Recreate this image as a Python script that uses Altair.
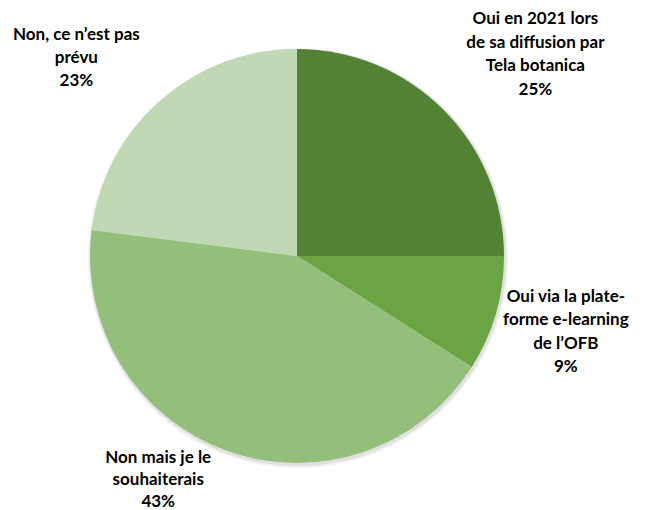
import altair as alt
import pandas as pd

categories = [
    "Oui en 2021 lors\nde sa diffusion par\nTela botanica",
    "Oui via la plate-\nforme e-learning\nde l\u2019OFB",
    "Non mais je le\nsouhaiterais",
    "Non, ce n\u2019est pas\npr\u00e9vu",
]
values = [25, 9, 43, 23]
colors = ["#548235", "#6aa443", "#93bf7b", "#c0d8b3"]

df = pd.DataFrame({
    "cat": categories,
    "val": values,
    "idx": list(range(len(values))),
    "label": [f"{c}\n{v}%" for c, v in zip(categories, values)],
})

CX, CY, R = 289, 248, 207

shadow = alt.Chart(pd.DataFrame({"v": [1]})).mark_arc(
    radius=R + 3, color="#000000", opacity=0.05
).encode(theta=alt.Theta("v:Q"), x=alt.value(CX + 1), y=alt.value(CY + 2))
shadow2 = alt.Chart(pd.DataFrame({"v": [1]})).mark_arc(
    radius=R + 1.5, color="#000000", opacity=0.07
).encode(theta=alt.Theta("v:Q"), x=alt.value(CX + 1), y=alt.value(CY + 1.5))

pie = alt.Chart(df).mark_arc(radius=R).encode(
    theta=alt.Theta("val:Q", stack=True),
    order=alt.Order("idx:Q"),
    color=alt.Color("cat:N", scale=alt.Scale(domain=categories, range=colors), legend=None),
    x=alt.value(CX),
    y=alt.value(CY),
)

# label radius (px, to first line) and angular nudge (degrees) per slice
label_pos = [(336, 0.2), (272, -7.5), (245, 14.7), (312, -3.6)]
line_heights = [23.5, 23.3, 22.2, 23]

lab_base = alt.Chart(df).transform_window(
    cum="sum(val)", sort=[alt.SortField("idx")]
).transform_joinaggregate(
    total="sum(val)"
).transform_calculate(
    mid="(datum.cum - datum.val / 2) / datum.total * 360"
)

texts = []
for i, (rad, dtheta) in enumerate(label_pos):
    t = lab_base.transform_filter(alt.datum.idx == i).mark_text(
        radius=rad,
        font="Lato",
        fontWeight="bold",
        fontSize=17,
        lineBreak="\n",
        lineHeight=line_heights[i],
        align="center",
        baseline="middle",
        color="#000000",
        thetaOffset=dtheta * 3.14159265 / 180,
    ).encode(
        theta=alt.Theta("mid:Q", stack=None,
                        scale=alt.Scale(domain=[0, 360], range=[0, 6.283185307])),
        text="label:N",
        x=alt.value(CX),
        y=alt.value(CY),
    )
    texts.append(t)

chart = alt.layer(shadow, shadow2, pie, *texts).resolve_scale(theta="independent").properties(
    width=630, height=502, padding=0,
    autosize=alt.AutoSizeParams(type="none"),
).configure_view(stroke=None)

chart.save("out.html", embed_options={"renderer": "svg", "actions": False})
